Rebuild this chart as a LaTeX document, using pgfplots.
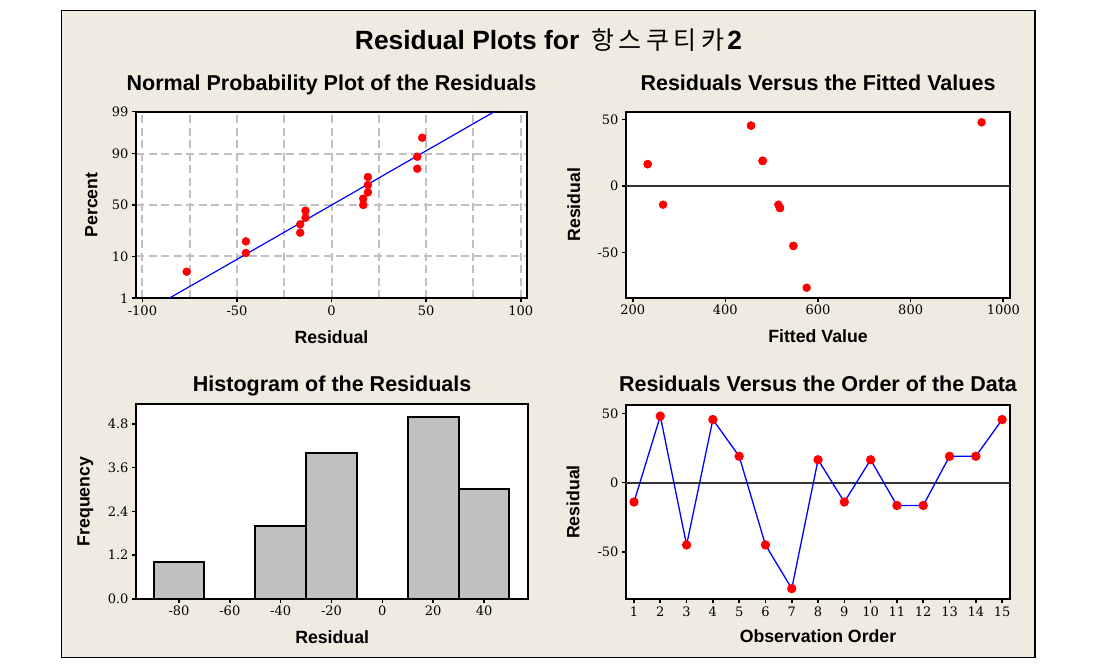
\documentclass[border=0pt]{standalone}
\usepackage{fontspec}
\setmainfont{Liberation Sans}
\newfontfamily\tickfont{DejaVu Serif}
\newfontfamily\krfont{Noto Sans CJK KR}
\usepackage{pgfplots}
\pgfplotsset{compat=1.18}

\definecolor{panelbg}{RGB}{239,235,224}
\definecolor{gridgray}{RGB}{192,192,192}
\definecolor{barfill}{RGB}{192,192,192}
\definecolor{zeroline}{RGB}{51,51,51}

\pgfplotsset{
  resid/.style={
    scale only axis,
    anchor=south west,
    axis background/.style={fill=white},
    axis line style={line width=2pt, black},
    tick align=outside,
    tick pos=left,
    major tick length=4pt,
    tick style={black, line width=1.6pt},
    /pgf/number format/assume math mode=true,
    /pgf/number format/1000 sep={},
    tick label style={font=\tickfont\fontsize{13}{13}\selectfont},
    title style={font=\bfseries\fontsize{21.5}{24}\selectfont, anchor=base},
    label style={font=\bfseries\fontsize{17.7}{20}\selectfont, anchor=base},
  },
  redpt/.style={mark=*, mark size=4pt, mark options={fill=red, draw=red}},
}

\begin{document}
\begin{tikzpicture}
\useasboundingbox (0,0) rectangle (1109pt,665pt);
\fill[white] (0,0) rectangle (1109pt,665pt);
\filldraw[fill=panelbg, draw=black, line width=1.5pt] (61.5pt,7.3pt) rectangle (1035pt,654.3pt);

\node[anchor=base, font=\bfseries\fontsize{26.4}{30}\selectfont] at (548.5pt,615.5pt)
  {Residual Plots for\hspace{12pt}{\krfont\mdseries\fontsize{25}{28}\selectfont 항\hspace{4.5pt}스\hspace{4.5pt}쿠\hspace{4.5pt}티\hspace{4.5pt}카}\hspace{3pt}2};

% Normal probability plot
\begin{axis}[resid,
  at={(136pt,366.7pt)}, width=391pt, height=186.6pt,
  xmin=-103.4, xmax=103.3, ymin=-2.3263, ymax=2.3263,
  xtick={-100,-50,0,50,100},
  minor xtick={-75,-25,25,75}, minor tick length=0pt,
  ytick={-2.3263,-1.2816,0,1.2816,2.3263}, yticklabels={1,10,50,90,99},
  xmajorgrids, xminorgrids, ymajorgrids,
  major grid style={gridgray, line width=2pt, dash pattern=on 8pt off 4.5pt},
  minor grid style={gridgray, line width=2pt, dash pattern=on 8pt off 4.5pt},
  title={Normal Probability Plot of the Residuals},
  title style={at={(axis description cs:0.5,1)}, yshift=15.5pt},
  xlabel={Residual},
  xlabel style={at={(axis description cs:0.5,0)}, yshift=-45pt},
  ylabel={Percent},
  ylabel style={at={(axis description cs:-0.0985,0.5)}},
]
\addplot[blue, line width=1.2pt, no marks] coordinates {(-85.9,-2.3263) (86.0,2.3263)};
\addplot[only marks, redpt] coordinates {
  (-76.6,-1.663) (-45.3,-1.197) (-45.3,-0.907) (-16.6,-0.690) (-16.6,-0.483)
  (-13.8,-0.316) (-13.8,-0.142) (16.7,0.000) (16.7,0.157) (19.2,0.315)
  (19.2,0.498) (19.2,0.698) (45.3,0.905) (45.3,1.204) (47.9,1.678)
};
\end{axis}

% Residuals versus fitted values
\begin{axis}[resid,
  at={(626pt,367.3pt)}, width=384pt, height=186pt,
  xmin=185.5, xmax=1014.5, ymin=-84, ymax=56,
  xtick={200,400,600,800,1000}, ytick={-50,0,50},
  title={Residuals Versus the Fitted Values},
  title style={at={(axis description cs:0.5,1)}, yshift=15pt},
  xlabel={Fitted Value},
  xlabel style={at={(axis description cs:0.5,0)}, yshift=-45pt},
  ylabel={Residual},
  ylabel style={at={(axis description cs:-0.1198,0.5)}},
]
\addplot[zeroline, line width=2pt, no marks] coordinates {(185.5,0) (1014.5,0)};
\addplot[only marks, redpt] coordinates {
  (265.5,-14) (953.2,48) (546.8,-45) (455.4,45.5) (480.6,19)
  (546.8,-45) (575.5,-76.5) (232.4,16.5) (514.4,-14) (232.4,16.5)
  (518.0,-16.5) (518.0,-16.5) (480.6,19) (480.6,19) (455.4,45.5)
};
\end{axis}

% Histogram
\begin{axis}[resid,
  at={(136pt,66.3pt)}, width=392.3pt, height=194.4pt,
  xmin=-96.9, xmax=57.4, ymin=0, ymax=5.34,
  xtick={-80,-60,-40,-20,0,20,40}, ytick={0,1.2,2.4,3.6,4.8},
  yticklabel style={/pgf/number format/.cd, fixed, fixed zerofill, precision=1},
  title={Histogram of the Residuals},
  title style={at={(axis description cs:0.5,1)}, yshift=7.3pt},
  xlabel={Residual},
  xlabel style={at={(axis description cs:0.5,0)}, yshift=-44.6pt},
  ylabel={Frequency},
  ylabel style={at={(axis description cs:-0.1183,0.5)}},
]
\addplot[ybar, bar width=20, fill=barfill, draw=black, line width=2pt] coordinates {
  (-80,1) (-60,0) (-40,2) (-20,4) (0,0) (20,5) (40,3)
};
\end{axis}

% Residuals versus order
\begin{axis}[resid,
  at={(626pt,66pt)}, width=384pt, height=194pt,
  xmin=0.696, xmax=15.30, ymin=-84, ymax=56,
  xtick={1,2,...,15}, ytick={-50,0,50},
  title={Residuals Versus the Order of the Data},
  title style={at={(axis description cs:0.5,1)}, yshift=8pt},
  xlabel={Observation Order},
  xlabel style={at={(axis description cs:0.5,0)}, yshift=-43.7pt},
  ylabel={Residual},
  ylabel style={at={(axis description cs:-0.1216,0.5)}},
]
\addplot[zeroline, line width=2pt, no marks] coordinates {(0.696,0) (15.30,0)};
\addplot[blue, line width=1.3pt, redpt] coordinates {
  (1,-14) (2,48) (3,-45) (4,45.5) (5,19) (6,-45) (7,-76.5) (8,16.5)
  (9,-14) (10,16.5) (11,-16.5) (12,-16.5) (13,19) (14,19) (15,45.5)
};
\end{axis}
\end{tikzpicture}
\end{document}
